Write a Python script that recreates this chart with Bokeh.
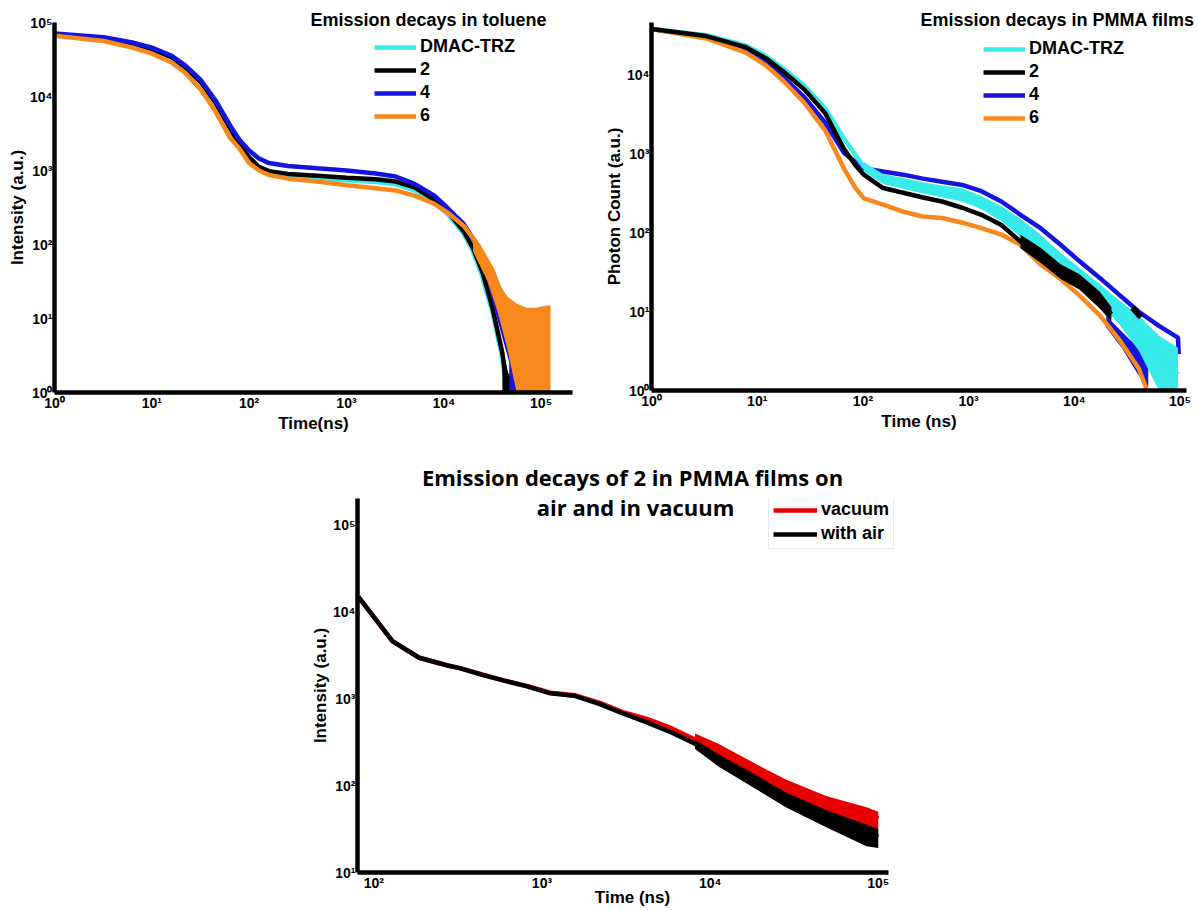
import math
from bokeh.plotting import figure
from bokeh.models import Legend, LegendItem, Label, Range1d, FixedTicker, Spacer
from bokeh.layouts import column, row
from bokeh.embed import file_html
from bokeh.resources import INLINE

# ---------------- tick labels ----------------
tick_values = [1, 10, 100, 1000, 10000, 100000]
tick_labels = ["10⁰", "10¹", "10²", "10³", "10⁴", "10⁵"]

# ---------------- toluene (top-left) ----------------
tol_series = ["DMAC-TRZ", "2", "4", "6"]
tol_t_main = [1, 3.2, 6.3, 10, 16, 22, 32, 45, 63, 79, 100, 126, 160, 250, 500, 1000,
              2000, 3200, 5000, 8000, 11200, 16000, 22400, 28000, 35500, 44700, 52500, 63000, 76000]
tol_i_4 = [70800, 63100, 53700, 45700, 35500, 26300, 16600, 8900, 4170, 2630, 1860, 1450, 1260, 1150, 1070, 1000,
           910, 830, 660, 457, 302, 190, 95, 40, 12.6, 4.2, 2.0, 1.8, 1.0]
tol_t_2 = [1, 3.2, 6.3, 10, 16, 22, 32, 45, 63, 79, 100, 126, 160, 250, 500, 1000,
           2000, 3200, 5000, 8000, 11200, 16000, 20000, 25000, 31600, 39800, 45700]
tol_i_2 = [69000, 61700, 52500, 43700, 33900, 24500, 15500, 8300, 3800, 2290, 1510, 1120, 980, 900, 850, 800,
           760, 710, 590, 400, 270, 151, 89, 42, 14, 3.5, 1.0]
tol_t_dmac = [1, 3.2, 6.3, 10, 16, 22, 32, 45, 63, 79, 100, 126, 160, 250, 500, 1000,
              2000, 3200, 5000, 8000, 11200, 16000, 20000, 25000, 31600, 39800, 44000]
tol_i_dmac = [69000, 61700, 52500, 43700, 33900, 24500, 15500, 8300, 3800, 2290, 1480, 1080, 920, 840, 780, 740,
              700, 650, 540, 370, 250, 140, 80, 36, 12, 3, 1.0]
tol_t_6 = [1, 3.2, 6.3, 10, 16, 22, 32, 45, 63, 79, 100, 126, 160, 250, 500, 1000,
           2000, 3200, 5000, 8000, 11200, 16000, 22400, 31600, 39800, 50100, 63100, 79400, 100000, 120000]
tol_i_6 = [66000, 56200, 45700, 38000, 28800, 20900, 12300, 6300, 2820, 2000, 1260, 1000, 870, 776, 708, 631,
           575, 537, 457, 355, 263, 178, 100, 45, 20, 8, 4, 2.5, 2, 1.6]
# noisy tails (envelopes)
tol_band6_t = [20000, 28000, 35500, 44700, 56000, 71000, 89000, 112000, 125000]
tol_band6_hi = [126, 63, 32, 20, 16, 14, 14, 15, 15]
tol_band6_lo = [80, 32, 12.6, 4, 1, 1, 1, 1, 1]
tol_band4_t = [47000, 52500, 60000, 72000]
tol_band4_hi = [3.2, 2.6, 2.4, 2.2]
tol_band4_lo = [1, 1, 1, 1]
tol_band2_t = [40000, 46000, 55000, 65000]
tol_band2_hi = [4, 1.8, 1.6, 1.6]
tol_band2_lo = [1, 1, 1, 1]

# ---------------- PMMA films (top-right) ----------------
pm_t = [1, 3.3, 7.8, 12, 18, 28, 44, 66, 85, 102, 155, 240, 370, 560, 870, 1320, 2040, 3090,
        4790, 7410, 11200, 17400, 26300, 40700, 63100, 95500]
pm_i_dmac = [38900, 32400, 24000, 17800, 12000, 7410, 3800, 1585, 977, 692, 490, 427, 372, 339, 302, 240, 174, 112,
             66, 40, 26.3, 17.8, 11.2, 6.3, 2.8, 1.6]
pm_band_dmac_t = [102, 155, 240, 370, 560, 870, 1320, 2040, 3090, 4790, 7410, 11200, 17400, 26300, 40700, 63100, 95500]
pm_band_dmac_hi = [794, 560, 500, 440, 400, 370, 295, 220, 151, 95, 56, 36, 22.4, 14.1, 8.9, 5.0, 3.5]
pm_band_dmac_lo = [603, 417, 363, 316, 282, 251, 200, 141, 89, 52.5, 28.2, 20, 12.6, 7.1, 3.2, 1, 1]
pm_t_4 = [1, 3.3, 7.8, 12, 18, 28, 44, 66, 85, 102, 155, 240, 370, 560, 870, 1320, 2040, 3090,
          4790, 7410, 11200, 17400, 26300, 40700, 63100, 95500, 97000]
pm_i_4 = [38900, 30900, 20900, 14800, 9330, 5250, 2512, 1047, 794, 661, 603, 550, 490, 447, 407, 339, 251, 170,
          115, 70.8, 43.6, 26.9, 16.6, 10, 6.6, 4.68, 2.9]
pm_band4_t = [20000, 28000, 40000, 50000]
pm_band4_hi = [8.9, 5.6, 3.5, 2.0]
pm_band4_lo = [6.3, 3.5, 1.6, 1.1]
pm_t_2 = [1, 3.3, 7.8, 12, 18, 28, 44, 66, 85, 102, 155, 240, 370, 560, 870, 1320, 2040, 3090,
          4790, 7410, 11200, 17400, 22400]
pm_i_2 = [38900, 31600, 22900, 16600, 10965, 6607, 3311, 1175, 724, 550, 372, 324, 282, 251, 209, 170, 126, 78,
          52, 32, 24, 14, 9.3]
pm_band2_t = [3090, 4790, 7410, 11200, 17400, 22400]
pm_band2_hi = [95, 65, 40, 30, 18, 11.5]
pm_band2_lo = [64, 42, 26, 19, 11, 7.5]
pm_blob2_t = [35500, 42700]
pm_blob2_i = [11.2, 8.5]
pm_t_6 = [1, 3.3, 7.8, 12, 18, 28, 44, 66, 85, 102, 155, 240, 370, 560, 870, 1320, 2040, 3090,
          4790, 7410, 11200, 17400, 26300, 40700, 48000]
pm_i_6 = [38900, 29500, 19500, 13500, 8320, 4470, 1995, 661, 372, 275, 229, 186, 162, 155, 135, 115, 95.5, 70.8,
          40, 26, 16, 9, 4.5, 1.9, 1.05]

# ---------------- compound 2, vacuum vs air (bottom) ----------------
air_series = ["vacuum", "with air"]
air_t = [81, 129, 186, 275, 324, 447, 589, 813, 1120, 1580, 2190, 3020, 4170, 5890, 8130, 11200,
         16600, 28200, 49000, 85100, 100000]
air_i_with_air = [14800, 4570, 2950, 2400, 2240, 1860, 1620, 1380, 1150, 1070, 871, 676, 537, 407, 302, 200,
                  129, 70.8, 43.7, 28.2, 25.7]
air_i_vacuum = [14800, 4570, 2950, 2400, 2240, 1880, 1620, 1400, 1170, 1090, 900, 700, 589, 457, 339, 251,
                158, 97.7, 63.1, 47.9, 41.7]
air_band_t = [8130, 11200, 16600, 28200, 49000, 85100, 100000]
air_band_air_hi = [339, 229, 151, 83, 52.5, 35.5, 31.6]
air_band_air_lo = [263, 166, 105, 56.2, 33.1, 20, 19.1]
air_band_vac_hi = [398, 302, 200, 117, 75.9, 56.2, 50.1]
air_band_vac_lo = [302, 200, 129, 70.8, 43.7, 28.2, 25.7]

CYAN = "#38eaea"
BLACK = "#000000"
BLUE = "#1414dc"
ORANGE = "#f7891c"
RED = "#e80000"
FONT = "Liberation Sans"
LW = 4.5


def extend(start, end, nominal_px, actual_px):
    """Range end when a frame of actual_px shows the same scale as [start, end] on nominal_px."""
    a, b = math.log10(start), math.log10(end)
    return 10 ** (a + (b - a) * actual_px / nominal_px)


def at(rng, frac):
    a, b = math.log10(rng[0]), math.log10(rng[1])
    return 10 ** (a + frac * (b - a))


def make_fig(xr, yr, xb, yb, fw, fh, bl, br, bt, bb, xlabel, ylabel, xticks, yticks, xlab_standoff=0):
    p = figure(x_axis_type="log", y_axis_type="log", output_backend="svg", toolbar_location=None,
               x_range=Range1d(*xr), y_range=Range1d(*yr), frame_width=fw, frame_height=fh,
               min_border_left=bl, min_border_right=br, min_border_top=bt, min_border_bottom=bb,
               background_fill_color="white", border_fill_color="white")
    p.outline_line_color = None
    p.xgrid.visible = False
    p.ygrid.visible = False
    for ax, lab, ticks, bnd, so in ((p.xaxis[0], xlabel, xticks, xb, xlab_standoff),
                                    (p.yaxis[0], ylabel, yticks, yb, 0)):
        ax.bounds = bnd
        ax.axis_label = lab
        ax.axis_label_text_font = FONT
        ax.axis_label_text_font_style = "bold"
        ax.axis_label_text_font_size = "17px"
        ax.axis_label_text_color = "black"
        ax.axis_line_width = 4.5
        ax.axis_line_color = "black"
        ax.major_tick_line_color = None
        ax.minor_tick_line_color = None
        ax.major_tick_out = 0
        ax.major_tick_in = 0
        ax.minor_tick_out = 0
        ax.minor_tick_in = 0
        ax.ticker = FixedTicker(ticks=ticks)
        ax.major_label_overrides = {float(v): l for v, l in zip(tick_values, tick_labels) if v in ticks}
        ax.major_label_text_font = FONT
        ax.major_label_text_font_style = "bold"
        ax.major_label_text_font_size = "14px"
        ax.major_label_text_color = "black"
        ax.major_label_standoff = 2
        ax.axis_label_standoff = so
    return p


def add_legend(p, items, loc, glyph_w=42, padding=0, spacing=2, border=None):
    lg = Legend(items=[LegendItem(label=l, renderers=[r]) for l, r in items], location=loc)
    lg.label_text_font = FONT
    lg.label_text_font_style = "bold"
    lg.label_text_font_size = "18px"
    lg.label_text_color = "black"
    lg.glyph_width = glyph_w
    lg.glyph_height = 20
    lg.label_height = 20
    lg.label_standoff = 4
    lg.spacing = spacing
    lg.padding = padding
    lg.margin = 0
    if border is None:
        lg.border_line_color = None
        lg.background_fill_alpha = 0
    else:
        lg.border_line_color = border
        lg.border_line_width = 1
        lg.background_fill_color = "white"
        lg.background_fill_alpha = 1
    p.add_layout(lg)


def set_title(p, text, font, size, align, offset, standoff):
    p.title.text = text
    p.title.text_font = font
    p.title.text_font_style = "bold"
    p.title.text_font_size = size
    p.title.text_color = "black"
    p.title.align = align
    p.title.offset = offset
    p.title.standoff = standoff


# ---- top-left: frame 518 x 370 px ----
xr1, yr1 = (1, 2.1e5), (1, 1e5)
p1 = make_fig(xr1, yr1, "auto", "auto", 518, 370, 54, 23, 22, 48, "Time(ns)", "Intensity (a.u.)",
              [1, 10, 100, 1000, 10000, 100000], [1, 10, 100, 1000, 10000, 100000])
r_c = p1.line(tol_t_dmac, tol_i_dmac, line_color=CYAN, line_width=LW)
p1.varea(tol_band2_t, tol_band2_lo, tol_band2_hi, fill_color=BLACK)
r_k = p1.line(tol_t_2, tol_i_2, line_color=BLACK, line_width=LW)
p1.varea(tol_band4_t, tol_band4_lo, tol_band4_hi, fill_color=BLUE)
r_b = p1.line(tol_t_main, tol_i_4, line_color=BLUE, line_width=LW)
p1.varea(tol_band6_t, tol_band6_lo, tol_band6_hi, fill_color=ORANGE)
r_o = p1.line(tol_t_6, tol_i_6, line_color=ORANGE, line_width=LW)
add_legend(p1, list(zip(tol_series, [r_c, r_k, r_b, r_o])), (320, 266))
set_title(p1, "Emission decays in toluene", FONT, "18px", "left", 256, -14)

# ---- top-right: frame 535 x 368 px ----
xr2, yr2 = (1, 1.15e5), (1, 4.7e4)
p2 = make_fig(xr2, yr2, "auto", "auto", 535, 368, 56, 11, 22, 50, "Time (ns)", "Photon Count (a.u.)",
              [1, 10, 100, 1000, 10000, 100000], [1, 10, 100, 1000, 10000])
r2_b = p2.line(pm_t_4, pm_i_4, line_color=BLUE, line_width=LW)
p2.varea(pm_band4_t, pm_band4_lo, pm_band4_hi, fill_color=BLUE)
r2_o = p2.line(pm_t_6, pm_i_6, line_color=ORANGE, line_width=LW)
p2.varea(pm_band_dmac_t, pm_band_dmac_lo, pm_band_dmac_hi, fill_color=CYAN)
r2_c = p2.line(pm_t, pm_i_dmac, line_color=CYAN, line_width=LW)
p2.varea(pm_band2_t, pm_band2_lo, pm_band2_hi, fill_color=BLACK)
r2_k = p2.line(pm_t_2, pm_i_2, line_color=BLACK, line_width=LW)
p2.line(pm_blob2_t, pm_blob2_i, line_color=BLACK, line_width=6)
add_legend(p2, list(zip(tol_series, [r2_c, r2_k, r2_b, r2_o])), (332, 262))
set_title(p2, "Emission decays in PMMA films", FONT, "18px", "left", 269, -15)

# ---- bottom: frame 550 x 374 px (x axis drawn over 531 px) ----
xr3 = (80, extend(80, 1.15e5, 531, 550))
yr3 = (10, 2e5)
p3 = make_fig(xr3, yr3, (80, 1.15e5), "auto", 550, 374, 67, 0, 58, 38, "Time (ns)", "Intensity (a.u.)",
              [100, 1000, 10000, 100000], [10, 100, 1000, 10000, 100000], xlab_standoff=-6)
p3.varea(air_band_t, air_band_vac_lo, air_band_vac_hi, fill_color=RED)
r3_r = p3.line(air_t, air_i_vacuum, line_color=RED, line_width=LW)
p3.varea(air_band_t, air_band_air_lo, air_band_air_hi, fill_color=BLACK)
r3_k = p3.line(air_t, air_i_with_air, line_color=BLACK, line_width=LW)
add_legend(p3, list(zip(air_series, [r3_r, r3_k])), (411, 323), glyph_w=44, padding=4, spacing=3,
           border="#d4d4d4")
set_title(p3, "Emission decays of 2 in PMMA films on", "Open Sans", "22px", "center", 0, 13)
p3.add_layout(Label(x=at(xr3, 278 / 550), y=at(yr3, 366 / 374), text="air and in vacuum",
                    text_font="Open Sans", text_font_style="bold", text_font_size="22px",
                    text_color="black", text_baseline="middle", text_align="center"))

layout = column(row(p1, p2), row(Spacer(width=290, height=470), p3))
open("out.html", "w").write(file_html(layout, INLINE))
